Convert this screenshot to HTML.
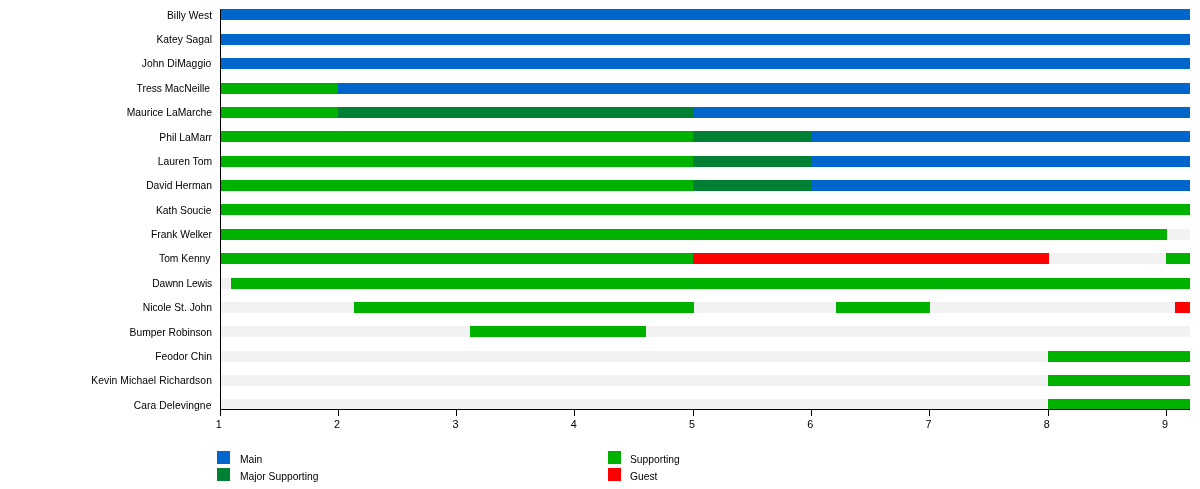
<!DOCTYPE html>
<html><head><meta charset="utf-8"><title>Timeline</title>
<style>
html,body{margin:0;padding:0;background:#fff;}
body{width:1200px;height:489px;overflow:hidden;position:relative;font-family:"Liberation Sans",sans-serif;font-size:10.3px;color:#000;}
.b{position:absolute;height:11px;}
.n{position:absolute;right:988px;white-space:nowrap;line-height:12px;height:12px;text-align:right;}
.t{position:absolute;top:418px;width:20px;text-align:center;line-height:12px;font-size:10.8px;}
.l{position:absolute;line-height:12px;white-space:nowrap;}
.s{position:absolute;width:13px;height:13px;}
.k{position:absolute;background:#000;width:1px;height:6px;top:410px;}
.ax{position:absolute;background:#000;}
</style></head><body>

<div class="b" style="left:221px;top:9px;width:969px;background:#0066cc"></div>
<div class="n" style="top:9.5px;right:988px">Billy West</div>
<div class="b" style="left:221px;top:34px;width:969px;background:#0066cc"></div>
<div class="n" style="top:33.5px;right:988px">Katey Sagal</div>
<div class="b" style="left:221px;top:58px;width:969px;background:#0066cc"></div>
<div class="n" style="top:57.5px;right:988.58px;letter-spacing:0.08px">John DiMaggio</div>
<div class="b" style="left:221px;top:83px;width:118px;background:#00b200"></div>
<div class="b" style="left:338px;top:83px;width:852px;background:#0066cc"></div>
<div class="n" style="top:82.5px;right:990px">Tress MacNeille</div>
<div class="b" style="left:221px;top:107px;width:118px;background:#00b200"></div>
<div class="b" style="left:338px;top:107px;width:356px;background:#008033"></div>
<div class="b" style="left:693px;top:107px;width:497px;background:#0066cc"></div>
<div class="n" style="top:106.5px;right:988px">Maurice LaMarche</div>
<div class="b" style="left:221px;top:131px;width:473px;background:#00b200"></div>
<div class="b" style="left:693px;top:131px;width:119px;background:#008033"></div>
<div class="b" style="left:811px;top:131px;width:379px;background:#0066cc"></div>
<div class="n" style="top:131.5px;right:988px">Phil LaMarr</div>
<div class="b" style="left:221px;top:156px;width:473px;background:#00b200"></div>
<div class="b" style="left:693px;top:156px;width:119px;background:#008033"></div>
<div class="b" style="left:811px;top:156px;width:379px;background:#0066cc"></div>
<div class="n" style="top:155.5px;right:988px">Lauren Tom</div>
<div class="b" style="left:221px;top:180px;width:473px;background:#00b200"></div>
<div class="b" style="left:693px;top:180px;width:119px;background:#008033"></div>
<div class="b" style="left:811px;top:180px;width:379px;background:#0066cc"></div>
<div class="n" style="top:179.5px;right:988px">David Herman</div>
<div class="b" style="left:221px;top:204px;width:969px;background:#00b200"></div>
<div class="n" style="top:204.5px;right:988.5px">Kath Soucie</div>
<div class="b" style="left:221px;top:229px;width:969px;background:#f2f2f2"></div>
<div class="b" style="left:221px;top:229px;width:946px;background:#00b200"></div>
<div class="n" style="top:228.5px;right:988px">Frank Welker</div>
<div class="b" style="left:221px;top:253px;width:969px;background:#f2f2f2"></div>
<div class="b" style="left:221px;top:253px;width:473px;background:#00b200"></div>
<div class="b" style="left:693px;top:253px;width:356px;background:#ff0000"></div>
<div class="b" style="left:1166px;top:253px;width:24px;background:#00b200"></div>
<div class="n" style="top:252.5px;right:989.5px">Tom Kenny</div>
<div class="b" style="left:221px;top:278px;width:969px;background:#f2f2f2"></div>
<div class="b" style="left:231px;top:278px;width:959px;background:#00b200"></div>
<div class="n" style="top:277.5px;right:987.88px;letter-spacing:-0.12px">Dawnn Lewis</div>
<div class="b" style="left:221px;top:302px;width:969px;background:#f2f2f2"></div>
<div class="b" style="left:354px;top:302px;width:340px;background:#00b200"></div>
<div class="b" style="left:836px;top:302px;width:94px;background:#00b200"></div>
<div class="b" style="left:1175px;top:302px;width:15px;background:#ff0000"></div>
<div class="n" style="top:301.5px;right:988px">Nicole St. John</div>
<div class="b" style="left:221px;top:326px;width:969px;background:#f2f2f2"></div>
<div class="b" style="left:470px;top:326px;width:176px;background:#00b200"></div>
<div class="n" style="top:326.5px;right:988px">Bumper Robinson</div>
<div class="b" style="left:221px;top:351px;width:969px;background:#f2f2f2"></div>
<div class="b" style="left:1048px;top:351px;width:142px;background:#00b200"></div>
<div class="n" style="top:350.5px;right:988px">Feodor Chin</div>
<div class="b" style="left:221px;top:375px;width:969px;background:#f2f2f2"></div>
<div class="b" style="left:1048px;top:375px;width:142px;background:#00b200"></div>
<div class="n" style="top:374.5px;right:988.07px;letter-spacing:0.07px">Kevin Michael Richardson</div>
<div class="b" style="left:221px;top:399px;width:969px;background:#f2f2f2"></div>
<div class="b" style="left:1048px;top:399px;width:142px;background:#00b200"></div>
<div class="n" style="top:399.5px;right:988.57px;letter-spacing:0.07px">Cara Delevingne</div>
<div class="ax" style="left:220px;top:9px;width:1px;height:407px"></div>
<div class="ax" style="left:220px;top:409px;width:970px;height:1px"></div>
<div class="t" style="left:208.8px">1</div>
<div class="t" style="left:327.1px">2</div>
<div class="k" style="left:338px"></div>
<div class="t" style="left:445.4px">3</div>
<div class="k" style="left:456px"></div>
<div class="t" style="left:563.7px">4</div>
<div class="k" style="left:574px"></div>
<div class="t" style="left:682.0px">5</div>
<div class="k" style="left:693px"></div>
<div class="t" style="left:800.3px">6</div>
<div class="k" style="left:811px"></div>
<div class="t" style="left:918.6px">7</div>
<div class="k" style="left:929px"></div>
<div class="t" style="left:1036.8px">8</div>
<div class="k" style="left:1048px"></div>
<div class="t" style="left:1155.1px">9</div>
<div class="k" style="left:1166px"></div>
<div class="s" style="left:217px;top:451px;background:#0066cc"></div>
<div class="l" style="left:240px;top:454px">Main</div>
<div class="s" style="left:217px;top:468px;background:#008033"></div>
<div class="l" style="left:240px;top:471px">Major Supporting</div>
<div class="s" style="left:608px;top:451px;background:#00b200"></div>
<div class="l" style="left:630px;top:454px">Supporting</div>
<div class="s" style="left:608px;top:468px;background:#ff0000"></div>
<div class="l" style="left:630px;top:471px">Guest</div>
</body></html>
